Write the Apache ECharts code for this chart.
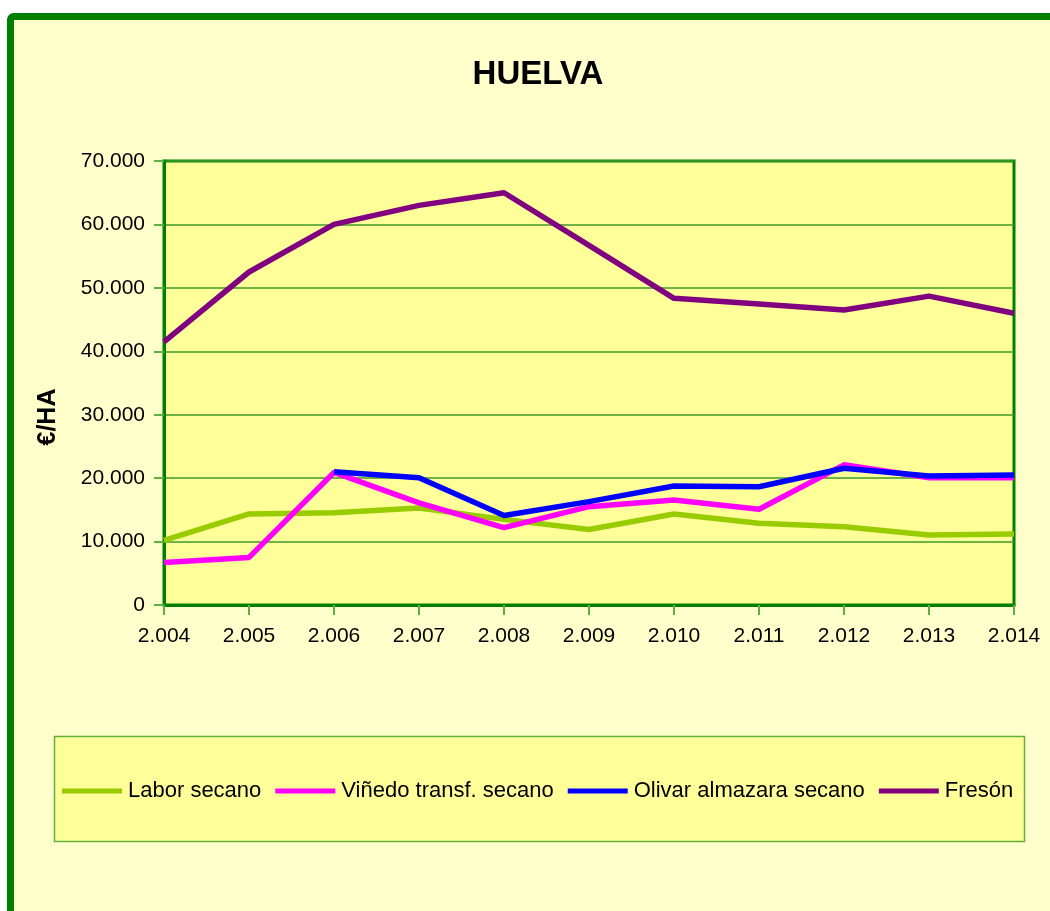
<!DOCTYPE html>
<html>
<head>
<meta charset="utf-8">
<script src="https://cdn.jsdelivr.net/npm/echarts@6/dist/echarts.min.js"></script>
<style>
  html, body { margin: 0; padding: 0; background: #fff; }
  #main { width: 1050px; height: 911px; }
</style>
</head>
<body>
<div id="main"></div>
<script>
var years = ["2.004", "2.005", "2.006", "2.007", "2.008", "2.009", "2.010", "2.011", "2.012", "2.013", "2.014"];

var laborSecano = [10200, 14350, 14550, 15300, 13500, 11900, 14350, 12900, 12350, 11050, 11200];
var vinedoSecano = [6700, 7500, 20900, 16100, 12200, 15500, 16550, 15100, 22100, 20050, 20050];
var olivarSecano = [null, null, 21000, 20050, 14100, 16300, 18750, 18650, 21550, 20350, 20500];
var freson = [41500, 52500, 60000, 63000, 65000, 56700, 48350, 47450, 46500, 48700, 46000];

var seriesNames = ["Labor secano", "Viñedo transf. secano", "Olivar almazara secano", "Fresón"];
var seriesColors = ["#99CC00", "#FF00FF", "#0000FF", "#800080"];

var dom = document.getElementById("main");
var myChart = echarts.init(dom, null, { renderer: "canvas" });

// miles con punto, como en el original
function fmtMiles(v) {
  return String(v).replace(/\B(?=(\d{3})+(?!\d))/g, ".");
}

function makeLine(name, data, color) {
  return {
    name: name,
    type: "line",
    data: data,
    symbol: "none",
    connectNulls: false,
    lineStyle: { color: color, width: 5.5, cap: "butt", join: "round" },
    itemStyle: { color: color },
    emphasis: { disabled: true }
  };
}

var option = {
  backgroundColor: "#ffffff",
  animation: false,
  textStyle: { fontFamily: "Liberation Sans, Arial, sans-serif" },
  graphic: [
    {
      type: "rect",
      z: -10,
      shape: { x: 10.5, y: 16.5, width: 1100, height: 1000, r: 3 },
      style: { fill: "#FFFFCC", stroke: "#008000", lineWidth: 7 }
    },
    {
      type: "rect",
      z: -5,
      shape: { x: 54.5, y: 736.5, width: 970, height: 105 },
      style: { fill: "#FFFF99", stroke: "#5FAF40", lineWidth: 1.5 }
    },
    {
      type: "text",
      x: 48,
      y: 417,
      rotation: Math.PI / 2,
      style: {
        text: "€/HA",
        fill: "#000",
        font: "bold 25px 'Liberation Sans', Arial, sans-serif",
        align: "center",
        verticalAlign: "middle"
      }
    }
  ],
  title: {
    text: "HUELVA",
    left: 533,
    textAlign: "center",
    top: 53,
    textStyle: {
      fontSize: 33,
      fontWeight: "bold",
      color: "#000",
      fontFamily: "Liberation Sans, Arial, sans-serif"
    }
  },
  legend: {
    data: seriesNames,
    left: 57,
    top: 775,
    itemWidth: 60,
    itemHeight: 5,
    itemGap: 14,
    icon: "rect",
    textStyle: { fontSize: 22, color: "#000", padding: [0, 0, 0, 1] },
    selectedMode: false
  },
  grid: {
    left: 164,
    right: 36,
    top: 161,
    bottom: 306,
    show: true,
    backgroundColor: "#FFFF99",
    borderWidth: 3,
    borderColor: "#008000"
  },
  xAxis: {
    type: "category",
    data: years,
    boundaryGap: false,
    axisLine: { show: true, lineStyle: { color: "#008000", width: 3 } },
    axisTick: { show: true, length: 10, inside: false, lineStyle: { color: "#5FB040", width: 2 } },
    axisLabel: { color: "#000", fontSize: 21, margin: 21 },
    splitLine: { show: false }
  },
  yAxis: {
    type: "value",
    min: 0,
    max: 70000,
    interval: 10000,
    axisLine: { show: true, lineStyle: { color: "#008000", width: 3 } },
    axisTick: { show: true, length: 10, lineStyle: { color: "#5FB040", width: 2 } },
    axisLabel: { color: "#000", fontSize: 21, margin: 19, formatter: fmtMiles },
    splitLine: { show: true, lineStyle: { color: "#3F9A2A", width: 1.5 } }
  },
  series: [
    makeLine(seriesNames[0], laborSecano, seriesColors[0]),
    makeLine(seriesNames[1], vinedoSecano, seriesColors[1]),
    makeLine(seriesNames[2], olivarSecano, seriesColors[2]),
    makeLine(seriesNames[3], freson, seriesColors[3])
  ]
};

myChart.setOption(option);
</script>
</body>
</html>
